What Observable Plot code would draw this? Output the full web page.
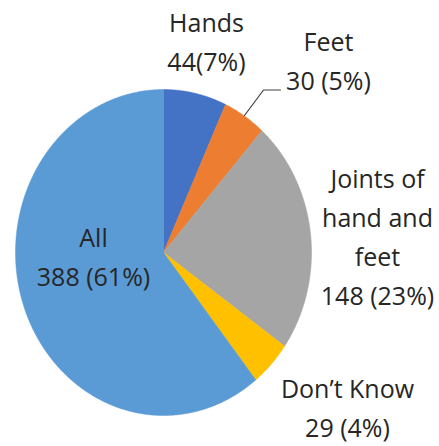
<!DOCTYPE html>
<html>
<head>
<meta charset="utf-8">
<script src="https://cdn.jsdelivr.net/npm/d3@7"></script>
<script src="https://cdn.jsdelivr.net/npm/@observablehq/plot@0.6"></script>
<style>
  html, body { margin: 0; padding: 0; background: #fff; }
  #chart svg { display: block; }
</style>
</head>
<body>
<div id="chart"></div>
<script>
// ---- data ----
const categories = ["Hands", "Feet", "Joints of hand and feet", "Don’t Know", "All"];
const labelText  = ["Hands", "Feet", "Joints of\nhand and\nfeet", "Don’t Know", "All"];
const values     = [44, 30, 148, 29, 388];
const percents   = [7, 5, 23, 4, 61];
const valueSep   = ["", " ", " ", " ", " "];
const colors     = ["#4472C4", "#ED7D31", "#A5A5A5", "#FFC000", "#5B9BD5"];

// ---- layout (pixels) ----
const W = 439, H = 446;
const pie = {cx: 163, cy: 252, rx: 148, ry: 163};
const labelAnchor = [
  {x: 206, y: 70},
  {x: 328, y: 89},
  {x: 377, y: 304},
  {x: 347, y: 436},
  {x: 93,  y: 285}
];
const leader = [{x: 244, y: 115}, {x: 263, y: 89.5}, {x: 280, y: 89.5}];

// ---- geometry from data ----
const arcs = d3.pie().sort(null).value(d => d)(values);
const pts = [];
arcs.forEach((a, i) => {
  const n = Math.max(8, Math.ceil((a.endAngle - a.startAngle) / 0.01));
  pts.push({k: i, x: pie.cx, y: pie.cy});
  for (let j = 0; j <= n; j++) {
    const t = a.startAngle + (a.endAngle - a.startAngle) * j / n;
    pts.push({k: i, x: pie.cx + pie.rx * Math.sin(t), y: pie.cy - pie.ry * Math.cos(t)});
  }
  pts.push({k: i, x: pie.cx, y: pie.cy});
});

const labels = categories.map((c, i) => ({
  text: `${labelText[i]}\n${values[i]}${valueSep[i]}(${percents[i]}%)`,
  x: labelAnchor[i].x, y: labelAnchor[i].y
}));

const chart = Plot.plot({
  width: W, height: H,
  margin: 0,
  x: {domain: [0, W], range: [0, W], axis: null},
  y: {domain: [0, H], range: [0, H], axis: null},
  color: {type: "identity"},
  marks: [
    Plot.line(pts, {x: "x", y: "y", z: "k", fill: d => colors[d.k], stroke: d => colors[d.k], strokeWidth: 0.5, curve: "linear-closed"}),
    Plot.line(leader, {x: "x", y: "y", stroke: "#404040", strokeWidth: 1.2}),
    Plot.text(labels, {x: "x", y: "y", text: "text", lineAnchor: "bottom", lineHeight: 1.55, textAnchor: "middle",
      fontSize: 25, fill: "#262626", fontFamily: "Open Sans"})
  ]
});
document.getElementById("chart").appendChild(chart);
</script>
</body>
</html>
